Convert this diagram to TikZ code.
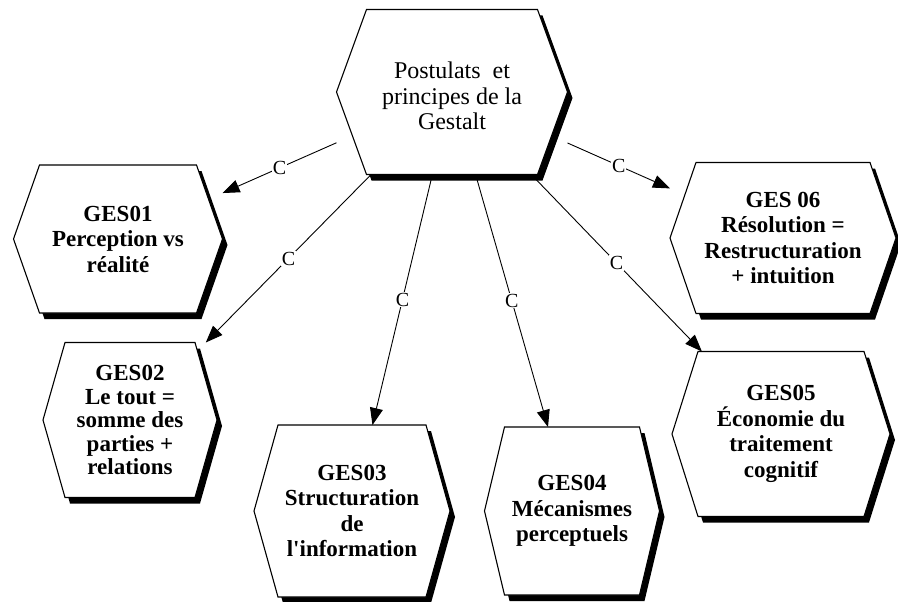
\documentclass[tikz,border=0pt]{standalone}
\usepackage{fontspec}
\setmainfont{Liberation Serif}[Ligatures=TeXOff]
\usetikzlibrary{calc,arrows.meta,backgrounds}

\tikzset{
  hexbox/.style={rectangle, draw=none, outer sep=0pt, inner sep=0pt, align=center,
    font=\fontsize{23}{25.5}\selectfont\bfseries},
  rootbox/.style={hexbox, font=\fontsize{24}{25.5}\selectfont},
  conn/.style={draw=black, line width=0.9pt, -{Triangle[length=17pt,width=13pt]}},
  clab/.style={fill=white, inner sep=1pt, font=\fontsize{20}{20}\selectfont},
  hexshadow/.style={fill=black},
  hexline/.style={fill=white, draw=black, line width=1.1pt, line join=miter},
}

% Hexagon with a solid drop shadow, drawn around a named node.
% #1 = node name, #2 = horizontal inset of the top and bottom corners
\newcommand{\hexframe}[2]{%
  \fill[hexshadow]
    ($(#1.north west)+(#2+5,6)$) -- ($(#1.west)+(5,6)$) --
    ($(#1.south west)+(#2+5,6)$) -- ($(#1.south east)+(-#2+5,6)$) --
    ($(#1.east)+(5,6)$) -- ($(#1.north east)+(-#2+5,6)$) -- cycle;
  \filldraw[hexline]
    ($(#1.north west)+(#2,0)$) -- (#1.west) --
    ($(#1.south west)+(#2,0)$) -- ($(#1.south east)+(-#2,0)$) --
    (#1.east) -- ($(#1.north east)+(-#2,0)$) -- cycle;
}

\begin{document}
\begin{tikzpicture}[x=1pt,y=-1pt]
  \useasboundingbox (0,0) rectangle (898,602);
  \clip (0,0) rectangle (898,602);

  % nodes
  \node[rootbox, minimum width=231pt, minimum height=165pt] (top) at (452,92)
    {\raisebox{-7pt}[\height][\depth]{\begin{tabular}{@{}c@{}}Postulats~ et\\principes de la\\Gestalt\end{tabular}}};
  \node[hexbox, minimum width=209pt, minimum height=148pt] (g1) at (118,239)
    {GES01\\Perception vs\\réalité};
  \node[hexbox, minimum width=174pt, minimum height=155pt,
        font=\fontsize{23}{23.5}\selectfont\bfseries] (g2) at (130,420)
    {GES02\\Le tout =\\somme des\\parties +\\relations};
  \node[hexbox, minimum width=196pt, minimum height=172pt] (g3) at (352,511)
    {GES03\\Structuration\\de\\l'information};
  \node[hexbox, minimum width=175pt, minimum height=168pt] (g4) at (572,511)
    {GES04\\Mécanismes\\perceptuels};
  \node[hexbox, minimum width=218pt, minimum height=165pt] (g5) at (781,434)
    {GES05\\Économie du\\traitement\\cognitif};
  \node[hexbox, minimum width=226pt, minimum height=151pt] (g6) at (783,238)
    {GES 06\\Résolution =\\Restructuration\\+ intuition};

  % hexagon frames behind the texts
  \begin{scope}[on background layer]
    \fill[white] (0,0) rectangle (898,602);
    \hexframe{top}{30}
    \hexframe{g1}{26}
    \hexframe{g2}{22}
    \hexframe{g3}{24}
    \hexframe{g4}{20}
    \hexframe{g5}{26}
    \hexframe{g6}{26}
  \end{scope}

  % connectors
  \draw[conn] (top) -- node[clab] {C} (g1);
  \draw[conn] (top) -- node[clab] {C} (g2);
  \draw[conn] (top) -- node[clab] {C} (g3);
  \draw[conn] (top) -- node[clab] {C} (g4);
  \draw[conn] (top) -- node[clab] {C} (g5);
  \draw[conn] (top) -- node[clab] {C} (g6);
\end{tikzpicture}
\end{document}
